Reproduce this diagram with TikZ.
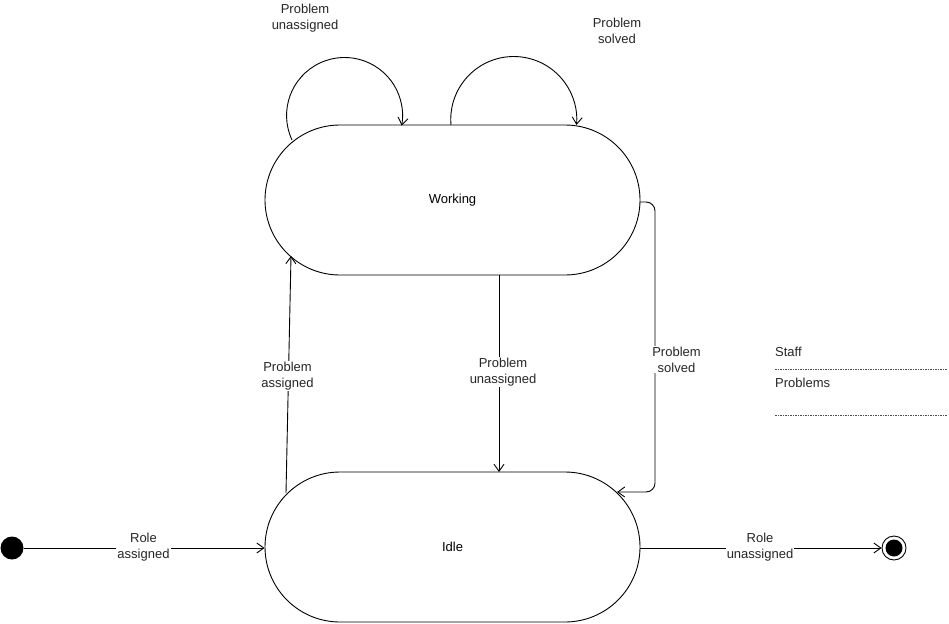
\documentclass[tikz,border=0pt]{standalone}
\usepackage{fontspec}
\setmainfont{Liberation Sans}
\usetikzlibrary{arrows.meta,shapes.misc}
\begin{document}
\begin{tikzpicture}[x=1pt,y=-1pt,
  every node/.style={font=\fontsize{13}{16}\selectfont},
  line/.style={line width=0.9pt, draw=black},
  arr/.style={line, -{Straight Barb[length=7pt,width=10pt,line width=0.9pt]}},
  state/.style={draw, line width=0.9pt, rounded rectangle, minimum width=375pt, minimum height=150pt, inner sep=0pt},
  lbl/.style={fill=white, align=center, inner sep=1pt, text=black!85},
  legendline/.style={line width=0.6pt, draw=black!70, dash pattern=on 1.5pt off 1pt}]
\useasboundingbox (0,0) rectangle (949,623);

% states
\node[state] (work) at (452.5,200) {Working};
\node[state] (idle) at (452.5,547) {Idle};
\node[circle, fill=black, minimum size=23pt, inner sep=0pt] (init) at (12,548) {};
\node[circle, draw, line width=0.9pt, minimum size=24pt, inner sep=0pt] (fin) at (894,548) {};
\node[circle, fill=black, minimum size=17pt, inner sep=0pt] (finin) at (894,548) {};

% boundary coordinates
\coordinate (paS) at (286,493);
\coordinate (paE) at (291,256);
\coordinate (puS) at (499,275);
\coordinate (puE) at (499,472);
\coordinate (psS) at (640,202);
\coordinate (psA) at (655,202);
\coordinate (psB) at (655,492);
\coordinate (psE) at (617,492);
\coordinate (l1S) at (292,140);
\coordinate (l2S) at (451,125);

% transitions
\draw[arr] (init) -- (idle.west |- init);
\node[lbl] at (143.5,547) {Role\\assigned};

\draw[arr] (idle.east |- fin) -- (fin);
\node[lbl] at (760,547) {Role\\unassigned};

\draw[arr] (paS) -- (paE);
\node[lbl] at (287.5,376) {Problem\\assigned};

\draw[arr] (puS) -- (puE);
\node[lbl] at (503,372) {Problem\\unassigned};

\draw[arr, rounded corners=9pt] (psS) -- (psA) -- (psB) -- (psE);
\node[lbl] at (676.5,359.5) {Problem\\solved};

\draw[arr] (l1S) arc[start angle=155, end angle=370, radius=58];
\node[lbl] at (305,18) {Problem\\unassigned};

\draw[arr] (l2S) arc[start angle=175, end angle=365, radius=63];
\node[lbl] at (617,31) {Problem\\solved};

% legend
\node[anchor=west, inner sep=0pt, text=black!85] (staff) at (775,352) {Staff};
\node[anchor=west, inner sep=0pt, text=black!85] (probs) at (775,383) {Problems};
\coordinate (lg1a) at (775,369);
\coordinate (lg1b) at (947,369);
\coordinate (lg2a) at (775,415);
\coordinate (lg2b) at (947,415);
\draw[legendline] (lg1a) -- (lg1b);
\draw[legendline] (lg2a) -- (lg2b);
\end{tikzpicture}
\end{document}
